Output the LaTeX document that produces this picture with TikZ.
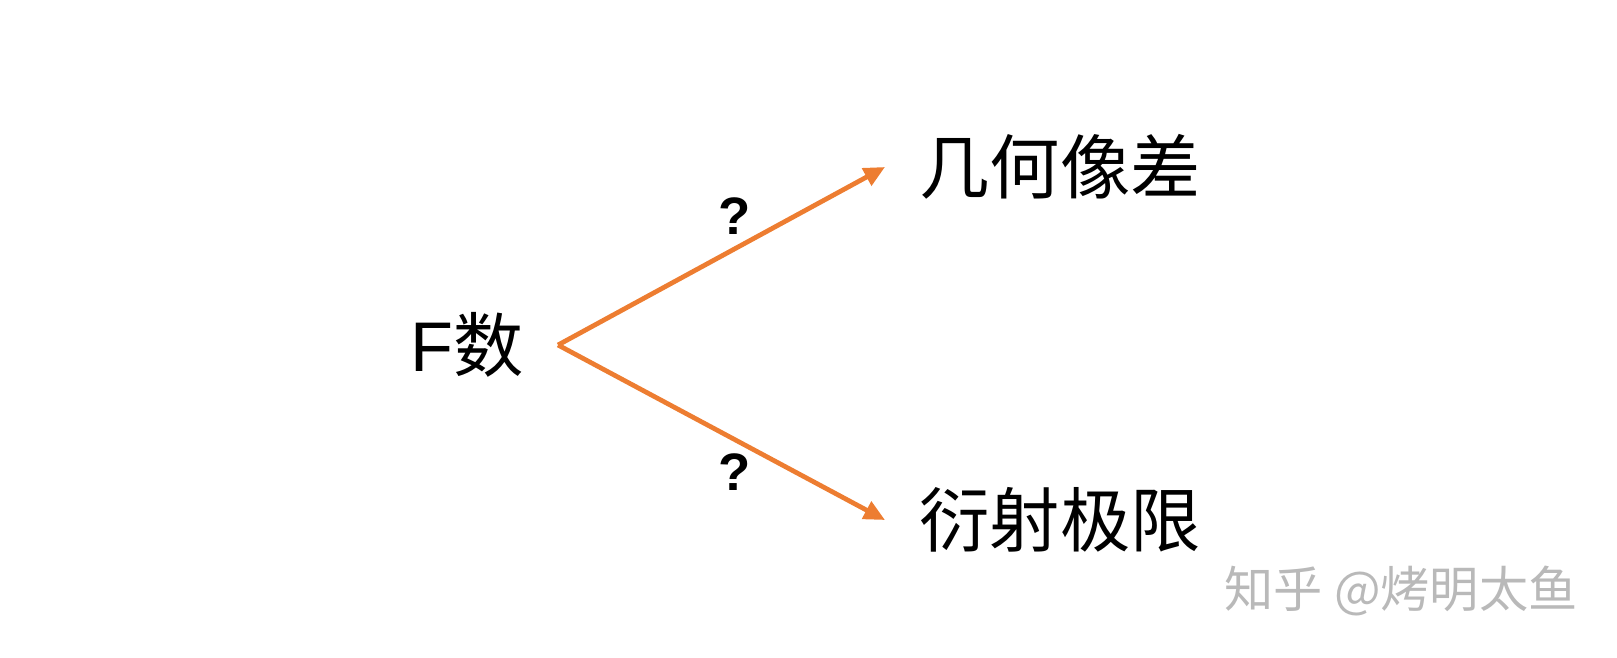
\documentclass[tikz,border=0pt]{standalone}
\usepackage{fontspec}
\setmainfont{Liberation Sans}
\newfontfamily\cjk{Noto Sans CJK SC}
\usepackage{xcolor}
\usetikzlibrary{arrows.meta}
\definecolor{arroworange}{RGB}{237,125,49}

\begin{document}
\begin{tikzpicture}[thick,
    term/.style={inner sep=0.33cm, font=\fontsize{20}{24}\selectfont},
    link/.style={draw=arroworange, line width=1.35pt, -{Triangle[length=0.21cm, width=0.19cm]}},
    ask/.style={inner sep=1.2mm, font=\fontsize{15}{18}\selectfont\bfseries}]
    \useasboundingbox (0,0) rectangle (16.17,6.57);
    % Define the terms
    \node[term] (fnum) at (4.67,3.12) {F{\cjk 数}};
    \node[term] (geo) at (10.60,4.90) {\cjk 几何像差};
    \node[term] (diff) at (10.60,1.37) {\cjk 衍射极限};
    
    % Define the links
    \draw[link] (fnum.east) -- node[ask, pos=0.54, above] {?} (geo.west);
    \draw[link] (fnum.east) -- node[ask, pos=0.54, below] {?} (diff.west);
    
    % Watermark
    \node[text=gray!55, font=\fontsize{14}{17}\selectfont\cjk] (mark) at (14.01,0.66) {知乎 @烤明太鱼};
\end{tikzpicture}
\end{document}
